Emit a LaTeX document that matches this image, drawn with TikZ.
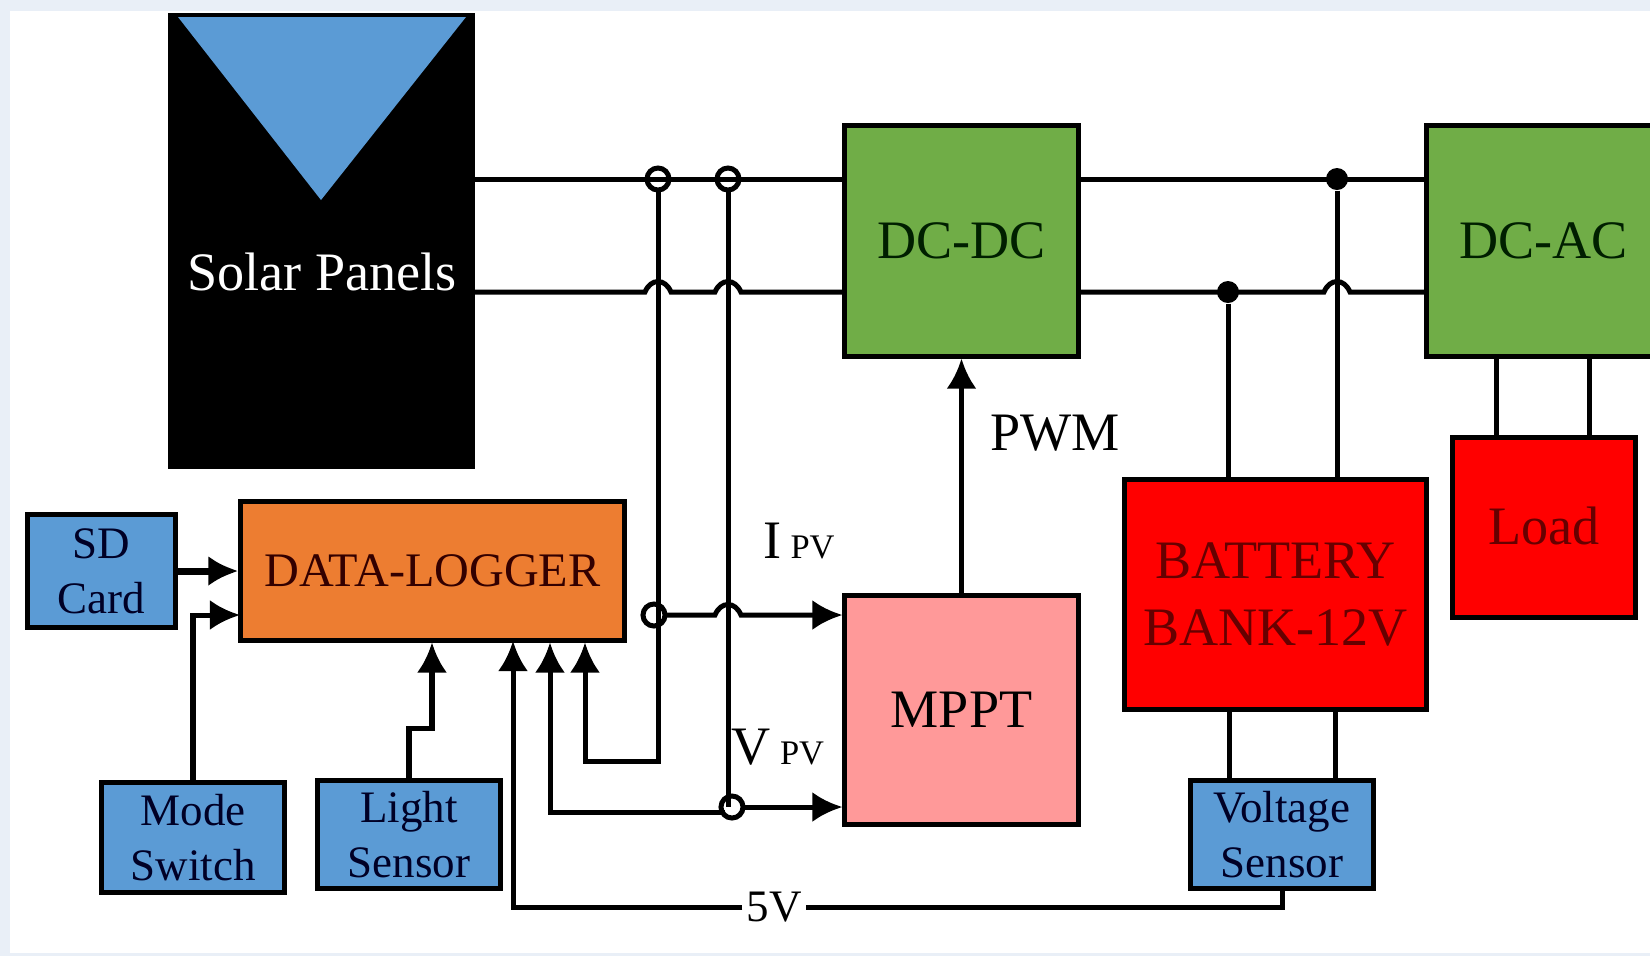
\documentclass[tikz,border=0pt]{standalone}
\usepackage{fontspec}
\setmainfont{Liberation Serif}
\usetikzlibrary{arrows.meta}

\definecolor{panelblue}{HTML}{5B9BD5}
\definecolor{convgreen}{HTML}{70AD47}
\definecolor{logorange}{HTML}{ED7D31}
\definecolor{mpptpink}{HTML}{FF9999}
\definecolor{framegrey}{HTML}{E9EFF7}

\newcommand{\hop}[1]{-- ([xshift=-0.13cm]#1) .. controls ([shift={(-0.07cm,0.14cm)}]#1) and ([shift={(0.07cm,0.14cm)}]#1) .. ([xshift=0.13cm]#1)}

\tikzset{
    bigtext/.style={font=\fontsize{15.4}{19}\selectfont},
    midtext/.style={font=\fontsize{12.8}{15.6}\selectfont},
    box/.style={draw=black,line width=0.05cm,inner sep=0pt,align=center},
    wire/.style={line width=0.05cm},
    tap/.style={circle,draw=black,line width=0.05cm,minimum size=0.22cm,inner sep=0pt,outer sep=0pt},
    dot/.style={circle,fill=black,minimum size=0.22cm,inner sep=0pt}
}

\begin{document}
\begin{tikzpicture}[x=0.01cm,y=-0.01cm,>={Latex[length=0.3cm,width=0.3cm]}]
        \useasboundingbox (0,0) rectangle (1650,956);
        \fill[framegrey] (0,0) rectangle (1650,956);
        \fill[white] (10,11) rectangle (1650,953);
        \clip (0,0) rectangle (1650,956);

        % solar panels
        \node[box,fill=black,minimum width=3.02cm,minimum height=4.5cm] (solar) at (321.5,241) {};
        \fill[panelblue] (178,17) -- (466,17) -- (321,200) -- cycle;
        \node[bigtext,text=white] (solartext) at (322,272) {Solar Panels};

        % blocks
        \node[box,bigtext,fill=convgreen,text=black!70!green!40!black,minimum width=2.33cm,minimum height=2.3cm] (dcdc) at (961.5,241) {DC-DC};
        \node[box,bigtext,fill=convgreen,text=black!70!green!40!black,minimum width=2.33cm,minimum height=2.3cm] (dcac) at (1543.5,241) {DC-AC};
        \node[box,bigtext,fill=mpptpink,minimum width=2.33cm,minimum height=2.28cm] (mppt) at (961.5,710) {MPPT};
        \node[box,bigtext,fill=red,text=red!40!black,minimum width=3.01cm,minimum height=2.29cm] (batt) at (1275.5,594.5) {BATTERY\\BANK-12V};
        \node[box,bigtext,fill=red,text=red!40!black,minimum width=1.82cm,minimum height=1.79cm] (load) at (1544,527.5) {\raisebox{0.04cm}{Load}};
        \node[box,font=\fontsize{13.7}{15}\selectfont,fill=logorange,text=red!20!black,minimum width=3.83cm,minimum height=1.38cm] (dl) at (432.5,571) {DATA-LOGGER};
        \node[box,midtext,fill=panelblue,text=blue!15!black,minimum width=1.47cm,minimum height=1.12cm] (sd) at (101.5,571) {SD\\Card};
        \node[box,midtext,fill=panelblue,text=blue!15!black,minimum width=1.82cm,minimum height=1.09cm] (mode) at (193,837.5) {Mode\\Switch};
        \node[box,midtext,fill=panelblue,text=blue!15!black,minimum width=1.82cm,minimum height=1.07cm] (light) at (409,834.5) {Light\\Sensor};
        \node[box,midtext,fill=panelblue,text=blue!15!black,minimum width=1.82cm,minimum height=1.07cm] (volt) at (1282,834.5) {Voltage\\Sensor};

        % labels
        \node[bigtext] (pwm) at (1055,433) {PWM};
        \node[bigtext] (ipv) at (799,541) {I\,{\fontsize{9.8}{11}\selectfont PV}};
        \node[bigtext] (vpv) at (778,747) {V\,{\fontsize{9.8}{11}\selectfont PV}};
        \node[midtext,fill=white,inner sep=1pt] (five) at (774,907) {5V};

        % junctions
        \node[tap] (tapA) at (658,179) {};
        \node[tap] (tapB) at (728,179) {};
        \node[tap] (tapI) at (654,615) {};
        \node[tap] (tapV) at (732,807) {};
        \node[dot] (dotT) at (1337,179) {};
        \node[dot] (dotB) at (1228,292) {};
        \coordinate (hopA) at (658,292);
        \coordinate (hopB) at (728,292);
        \coordinate (hopC) at (1337,292);
        \coordinate (hopD) at (728,615);
        \coordinate (cornI) at (585,761);
        \coordinate (cornV) at (550,812);
        \coordinate (cornL) at (432,728);
        \coordinate (in5v) at (513,641);
        \coordinate (inM) at (240,615);
        \coordinate (acA) at (1496,357);
        \coordinate (acB) at (1589,357);
        \coordinate (battA) at (1229,710);
        \coordinate (battB) at (1335,710);

        % power lines
        \draw[wire] (solar.east |- tapA) -- (dcdc.west |- tapA);
        \draw[wire] (solar.east |- hopA) \hop{hopA} \hop{hopB} -- (dcdc.west |- hopA);
        \draw[wire] (dcdc.east |- dotT) -- (dcac.west |- dotT);
        \draw[wire] (dcdc.east |- dotB) \hop{hopC} -- (dcac.west |- dotB);
        \draw[wire] (dotT) -- (dotT |- batt.north);
        \draw[wire] (dotB) -- (dotB |- batt.north);
        \draw[wire] (acA) -- (acA |- load.north);
        \draw[wire] (acB) -- (acB |- load.north);
        \draw[wire] (battA) -- (battA |- volt.north);
        \draw[wire] (battB) -- (battB |- volt.north);

        % sensing
        \draw[wire,->] (tapA.south) |- (cornI) -- (cornI |- dl.south);
        \draw[wire] (tapB.south) -- (tapB |- tapV);
        \draw[wire,->] ([xshift=0.04cm]tapV.west |- cornV) -- (cornV) -- (cornV |- dl.south);
        \draw[wire,->] (tapI.east) \hop{hopD} -- (mppt.west |- tapI);
        \draw[wire,->] (tapV.east) -- (mppt.west |- tapV);
        \draw[wire,->] (mppt) -- (dcdc);

        % inputs of the logger
        \draw[->,line width=0.07cm] (sd) -- (dl);
        \draw[wire,->] (mode.north) |- (inM);
        \draw[wire,->] (light.north) |- (cornL) -- (cornL |- dl.south);
        \draw[wire] (volt.south) |- (five);
        \draw[wire,->] (five) -| (in5v);
    \end{tikzpicture}
\end{document}
